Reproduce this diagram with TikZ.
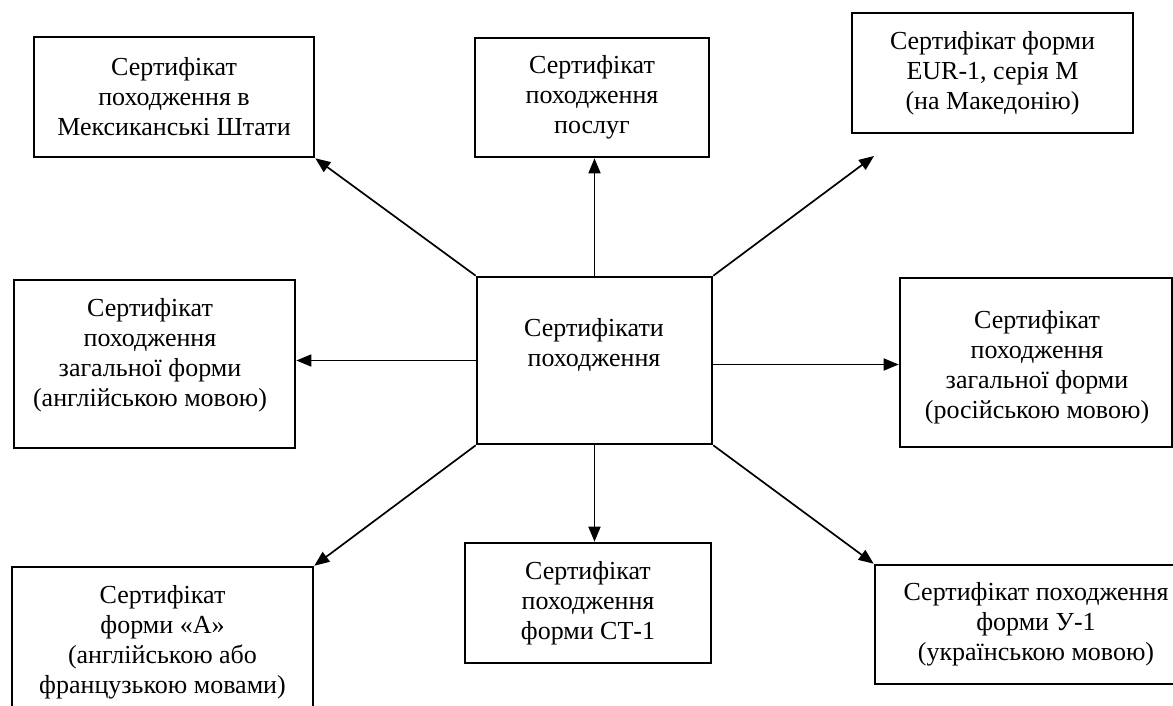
\documentclass[tikz,border=0pt]{standalone}
\usepackage{fontspec}
\setmainfont{Liberation Serif}
\usetikzlibrary{arrows.meta}
\begin{document}
\begin{tikzpicture}[x=1pt,y=-1pt,
  box/.style={draw,line width=2.6pt,inner sep=0pt,align=center,
    font=\fontsize{26}{30}\selectfont},
  txt/.style={inner sep=0pt,align=center,font=\fontsize{26}{30}\selectfont},
  arr/.style={line width=1.7pt,-{Triangle[length=15pt,width=12pt]}}]
\useasboundingbox (0,0) rectangle (1173,705);
\clip (0,0) rectangle (1173,705);
% boxes
\node[box,minimum width=280pt,minimum height=120pt] (tl) at (174,97)
  {Сертифікат\\походження в\\Мексиканські Штати};
\node[box,minimum width=234pt,minimum height=119pt] (tm) at (592,97.5)
  {Сертифікат\\походження\\послуг};
\node[box,minimum width=281pt,minimum height=120pt] (tr) at (992.5,73)
  {Сертифікат форми\\EUR-1, серія М\\(на Македонію)};
\node[box,minimum width=235pt,minimum height=167pt] (c) at (594.5,360.5) {};
\node[txt] (ct) at (594,345) {Сертифікати\\походження};
\node[box,minimum width=281pt,minimum height=168pt] (lm) at (154.5,364) {};
\node[txt] (lmt) at (150,355)
  {Сертифікат\\походження\\загальної форми\\(англійською мовою)};
\node[box,minimum width=272pt,minimum height=169pt] (rm) at (1036,362.5) {};
\node[txt] (rmt) at (1037,367)
  {Сертифікат\\походження\\загальної форми\\(російською мовою)};
\node[box,minimum width=246pt,minimum height=120pt] (bm) at (588,603)
  {Сертифікат\\походження\\форми СТ-1};
\node[box,minimum width=301pt,minimum height=150pt] (bl) at (162.5,642)
  {Сертифікат\\форми «А»\\(англійською або\\французькою мовами)};
\node[box,minimum width=322pt,minimum height=119pt] (br) at (1036,624.5)
  {Сертифікат походження\\форми У-1\\(українською мовою)};
\coordinate (trend) at (874,156);
% connectors
\draw[arr] (c.north) -- (c.north |- tm.south);
\draw[arr] (c.south) -- (c.south |- bm.north);
\draw[arr] (c.north west) -- (tl.south east);
\draw[arr] (c.north east) -- (trend);
\draw[arr] (c.south west) -- (bl.north east);
\draw[arr] (c.south east) -- (br.north west);
\draw[arr] (c.west) -- (c.west -| lm.east);
\draw[arr] ([yshift=-4pt]c.east) -- ([yshift=-4pt]c.east -| rm.west);
\end{tikzpicture}
\end{document}
